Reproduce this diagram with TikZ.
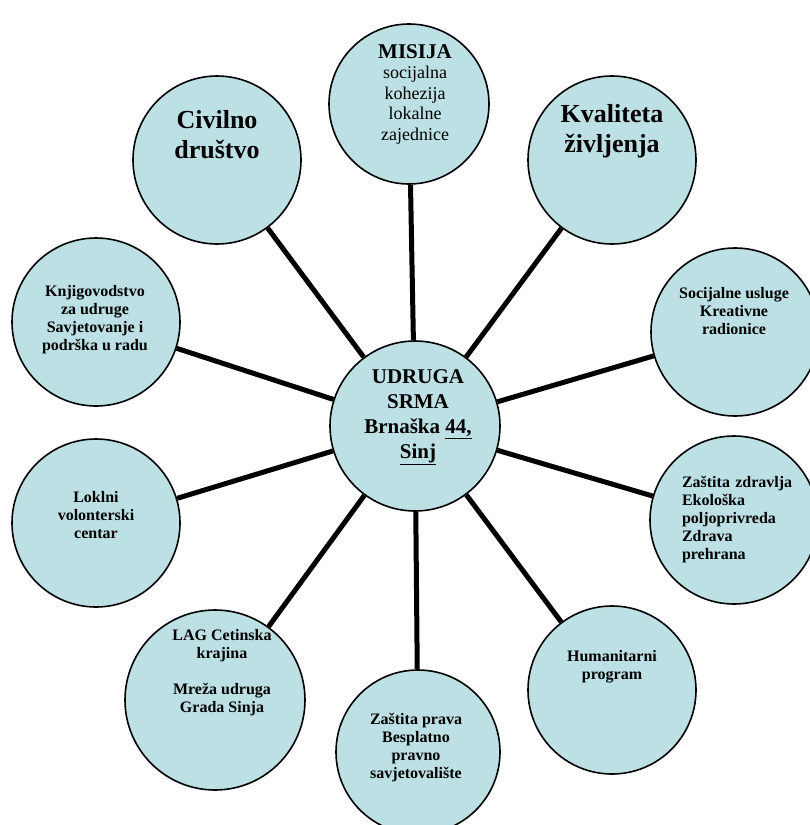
\documentclass[tikz,border=0pt]{standalone}
\usepackage{fontspec}
\setmainfont{Liberation Serif}
\usetikzlibrary{backgrounds}
\definecolor{cfill}{RGB}{188,224,228}
\begin{document}
\begin{tikzpicture}[x=1pt,y=-1pt,
  bub/.style={circle,draw=black,line width=1.6pt,fill=cfill,minimum size=#1,inner sep=0pt},
  bub/.default=168pt,
  conn/.style={line width=5pt,black},
  small/.style={font=\bfseries\fontsize{16}{18}\selectfont,align=center,inner sep=0pt},
  big/.style={font=\bfseries\fontsize{26}{30}\selectfont,align=center,inner sep=0pt},
  mid/.style={font=\bfseries\fontsize{21}{25}\selectfont,align=center,inner sep=0pt},
  reg/.style={font=\fontsize{18}{20.5}\selectfont,align=center,inner sep=0pt}]
\useasboundingbox (0,0) rectangle (809,825);
% circles
\node[bub=170pt] (c) at (415,426) {};
\node[bub=160pt] (mis) at (409,104) {};
\node[bub] (civ) at (217,160) {};
\node[bub] (kva) at (612,160) {};
\node[bub] (knj) at (96,322) {};
\node[bub] (soc) at (735,332) {};
\node[bub] (lok) at (96,523) {};
\node[bub] (zdr) at (734,520) {};
\node[bub=180pt] (lag) at (215,700) {};
\node[bub] (hum) at (612,690) {};
\node[bub=164pt] (pra) at (418,752) {};
% connectors
\begin{scope}[on background layer]
\draw[conn] (c) -- (mis);
\draw[conn] (c) -- (civ);
\draw[conn] (c) -- (kva);
\draw[conn] (c) -- (knj);
\draw[conn] (c) -- (soc);
\draw[conn] (c) -- (lok);
\draw[conn] (c) -- (zdr);
\draw[conn] (c) -- (lag);
\draw[conn] (c) -- (hum);
\draw[conn] (c) -- (pra);
\end{scope}
% texts
\node[mid] (tc) at (418,417) {UDRUGA\\SRMA\\Brnaška \underline{44,}\\\underline{Sinj}};
\node[reg] (tmis) at (415,94) {{\bfseries\fontsize{21}{24}\selectfont MISIJA}\\socijalna\\kohezija\\lokalne\\zajednice};
\node[big] (tciv) at (217,135) {Civilno\\društvo};
\node[big] (tkva) at (612,131) {Kvaliteta\\življenja};
\node[small] (tknj) at (95,320) {Knjigovodstvo\\za udruge\\Savjetovanje i\\podrška u radu};
\node[small] (tsoc) at (734,311) {Socijalne usluge\\Kreativne\\radionice};
\node[small] (tlok) at (96,515) {Loklni\\volonterski\\centar};
\node[small,align=left,text width=112pt] (tzdr) at (738,520) {Zaštita zdravlja\\Ekološka\\poljoprivreda\\Zdrava\\prehrana};
\node[small] (tlag) at (222,673) {LAG Cetinska\\krajina\\[18pt]Mreža udruga\\Grada Sinja};
\node[small] (tpra) at (416,748) {Zaštita prava\\Besplatno\\pravno\\savjetovalište};
\node[small] (thum) at (612,667) {Humanitarni\\program};
\end{tikzpicture}
\end{document}
